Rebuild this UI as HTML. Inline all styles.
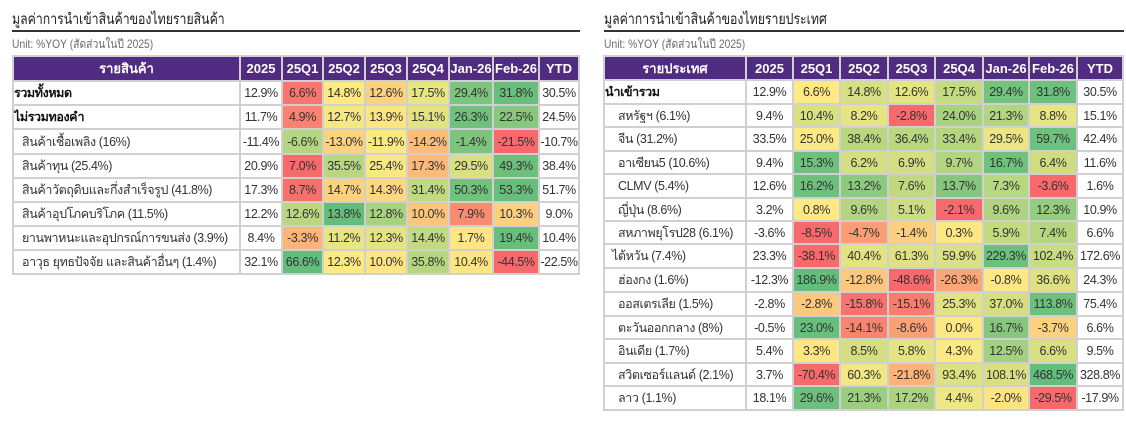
<!DOCTYPE html>
<html><head><meta charset="utf-8">
<style>
html,body{margin:0;padding:0;background:#fff;}
body{width:1126px;height:423px;position:relative;overflow:hidden;font-family:"Liberation Sans","Noto Sans CJK SC",sans-serif;color:#333;}
.title{position:absolute;top:7px;font-size:15px;color:#222;white-space:nowrap;transform:scaleX(0.82);transform-origin:0 50%;}
.rule{position:absolute;top:30px;height:2px;background:#333;}
.unit{position:absolute;top:35px;font-size:12px;color:#6b6b6b;white-space:nowrap;transform:scaleX(0.86);transform-origin:0 50%;}
.grid{position:absolute;display:grid;background:#d0d0d0;padding:2px;gap:2px;}
.grid>div{background:#fff;display:flex;align-items:center;justify-content:center;font-size:12.5px;letter-spacing:-0.4px;white-space:nowrap;overflow:hidden;}
.grid>div.h{background:#512b81;color:#fff;font-weight:bold;font-size:13px;letter-spacing:0;}
.grid>div.l{justify-content:flex-start;padding-left:8px;}
.grid>div.b{justify-content:flex-start;padding-left:0;font-weight:bold;color:#111;}
.grid>div.t{justify-content:flex-start;padding-left:7px;}
#g1{left:12px;top:55px;grid-template-columns:225px 40px 39px 40px 40px 40px 42px 44px 38px;grid-template-rows:23px 22px 22px 23px 22px 22px 22px 22px 22px;}
#g2{left:603px;top:55px;grid-template-columns:140px 45px 45px 46px 45px 46px 44px 46px 44px;grid-template-rows:22px 22px 21px 22px 21px 22px 21px 21px 22px 22px 22px 21px 22px 21px 22px;}
#g2>div.l{padding-left:13px;}
</style></head><body>

<div class="title" style="left:12px;">มูลค่าการนำเข้าสินค้าของไทยรายสินค้า</div>
<div class="rule" style="left:12px;width:568px;"></div>
<div class="unit" style="left:12px;">Unit: %YOY (สัดส่วนในปี 2025)</div>

<div class="title" style="left:604px;">มูลค่าการนำเข้าสินค้าของไทยรายประเทศ</div>
<div class="rule" style="left:604px;width:520px;"></div>
<div class="unit" style="left:604px;">Unit: %YOY (สัดส่วนในปี 2025)</div>

<div class="grid" id="g1">
<div class="h">รายสินค้า</div><div class="h">2025</div><div class="h">25Q1</div><div class="h">25Q2</div><div class="h">25Q3</div><div class="h">25Q4</div><div class="h">Jan-26</div><div class="h">Feb-26</div><div class="h">YTD</div>

<div class="b">รวมทั้งหมด</div><div>12.9%</div><div style="background:#f8766e">6.6%</div><div style="background:#fee983">14.8%</div><div style="background:#fdd17f">12.6%</div><div style="background:#e8e583">17.5%</div><div style="background:#7cc57c">29.4%</div><div style="background:#68bf7b">31.8%</div><div>30.5%</div>

<div class="b">ไม่รวมทองคำ</div><div>11.7%</div><div style="background:#f98370">4.9%</div><div style="background:#f5e884">12.7%</div><div style="background:#fee582">13.9%</div><div style="background:#e3e383">15.1%</div><div style="background:#6fc17c">26.3%</div><div style="background:#86c87d">22.5%</div><div>24.5%</div>

<div class="l">สินค้าเชื้อเพลิง (16%)</div><div>-11.4%</div><div style="background:#b5d680">-6.6%</div><div style="background:#fdd27f">-13.0%</div><div style="background:#fbe983">-11.9%</div><div style="background:#fcbd7b">-14.2%</div><div style="background:#7dc57c">-1.4%</div><div style="background:#f8696b">-21.5%</div><div>-10.7%</div>

<div class="l">สินค้าทุน (25.4%)</div><div>20.9%</div><div style="background:#f8696b">7.0%</div><div style="background:#b8d780">35.5%</div><div style="background:#f7e883">25.4%</div><div style="background:#fcb97a">17.3%</div><div style="background:#d8e082">29.5%</div><div style="background:#6cc07b">49.3%</div><div>38.4%</div>

<div class="l">สินค้าวัตถุดิบและกึ่งสำเร็จรูป (41.8%)</div><div>17.3%</div><div style="background:#f8706c">8.7%</div><div style="background:#fdd27f">14.7%</div><div style="background:#fed880">14.3%</div><div style="background:#c1da81">31.4%</div><div style="background:#70c27c">50.3%</div><div style="background:#67bf7b">53.3%</div><div>51.7%</div>

<div class="l">สินค้าอุปโภคบริโภค (11.5%)</div><div>12.2%</div><div style="background:#b8d780">12.6%</div><div style="background:#63be7b">13.8%</div><div style="background:#a9d27f">12.8%</div><div style="background:#fdc47c">10.0%</div><div style="background:#f98b71">7.9%</div><div style="background:#fdd07f">10.3%</div><div>9.0%</div>

<div class="l">ยานพาหนะและอุปกรณ์การขนส่ง (3.9%)</div><div>8.4%</div><div style="background:#fcb479">-3.3%</div><div style="background:#e8e583">11.2%</div><div style="background:#e4e483">12.3%</div><div style="background:#c2da81">14.4%</div><div style="background:#ffe683">1.7%</div><div style="background:#68bf7b">19.4%</div><div>10.4%</div>

<div class="l">อาวุธ ยุทธปัจจัย และสินค้าอื่นๆ (1.4%)</div><div>32.1%</div><div style="background:#63be7b">66.6%</div><div style="background:#fee983">12.3%</div><div style="background:#ffe683">10.0%</div><div style="background:#b6d680">35.8%</div><div style="background:#fee583">10.4%</div><div style="background:#f8696b">-44.5%</div><div>-22.5%</div>
</div>

<div class="grid" id="g2">
<div class="h">รายประเทศ</div><div class="h">2025</div><div class="h">25Q1</div><div class="h">25Q2</div><div class="h">25Q3</div><div class="h">25Q4</div><div class="h">Jan-26</div><div class="h">Feb-26</div><div class="h">YTD</div>

<div class="b">นำเข้ารวม</div><div>12.9%</div><div style="background:#ffe984">6.6%</div><div style="background:#d6e082">14.8%</div><div style="background:#e5e483">12.6%</div><div style="background:#c5db81">17.5%</div><div style="background:#74c37c">29.4%</div><div style="background:#6dc17c">31.8%</div><div>30.5%</div>

<div class="l">สหรัฐฯ (6.1%)</div><div>9.4%</div><div style="background:#d9e082">10.4%</div><div style="background:#e6e483">8.2%</div><div style="background:#f8696b">-2.8%</div><div style="background:#a8d27f">24.0%</div><div style="background:#b1d580">21.3%</div><div style="background:#e7e483">8.8%</div><div>15.1%</div>

<div class="l">จีน (31.2%)</div><div>33.5%</div><div style="background:#fbe983">25.0%</div><div style="background:#bad780">38.4%</div><div style="background:#b8d780">36.4%</div><div style="background:#b5d680">33.4%</div><div style="background:#ebe583">29.5%</div><div style="background:#6dc17c">59.7%</div><div>42.4%</div>

<div class="l">อาเซียน5 (10.6%)</div><div>9.4%</div><div style="background:#6ec17c">15.3%</div><div style="background:#d3df82">6.2%</div><div style="background:#d5df82">6.9%</div><div style="background:#b2d580">9.7%</div><div style="background:#6fc17c">16.7%</div><div style="background:#cfdd82">6.4%</div><div>11.6%</div>

<div class="l">CLMV (5.4%)</div><div>12.6%</div><div style="background:#6cc07b">16.2%</div><div style="background:#8ccb7e">13.2%</div><div style="background:#c0d981">7.6%</div><div style="background:#85c87d">13.7%</div><div style="background:#b7d780">7.3%</div><div style="background:#f8696b">-3.6%</div><div>1.6%</div>

<div class="l">ญี่ปุ่น (8.6%)</div><div>3.2%</div><div style="background:#fee983">0.8%</div><div style="background:#b3d580">9.6%</div><div style="background:#cedd82">5.1%</div><div style="background:#f8696b">-2.1%</div><div style="background:#aed480">9.6%</div><div style="background:#93cd7e">12.3%</div><div>10.9%</div>

<div class="l">สหภาพยุโรป28 (6.1%)</div><div>-3.6%</div><div style="background:#f8696b">-8.5%</div><div style="background:#fb9d75">-4.7%</div><div style="background:#fdd07f">-1.4%</div><div style="background:#ffe884">0.3%</div><div style="background:#c4da81">5.9%</div><div style="background:#b6d680">7.4%</div><div>6.6%</div>

<div class="t">ไต้หวัน (7.4%)</div><div>23.3%</div><div style="background:#f8696b">-38.1%</div><div style="background:#e3e383">40.4%</div><div style="background:#dfe283">61.3%</div><div style="background:#dbe182">59.9%</div><div style="background:#6bc07b">229.3%</div><div style="background:#c8dc81">102.4%</div><div>172.6%</div>

<div class="l">ฮ่องกง (1.6%)</div><div>-12.3%</div><div style="background:#63be7b">186.9%</div><div style="background:#fdc87d">-12.8%</div><div style="background:#f8696b">-48.6%</div><div style="background:#fba676">-26.3%</div><div style="background:#ffe884">-0.8%</div><div style="background:#dde182">36.6%</div><div>24.3%</div>

<div class="l">ออสเตรเลีย (1.5%)</div><div>-2.8%</div><div style="background:#fdc87d">-2.8%</div><div style="background:#f8736d">-15.8%</div><div style="background:#f97c6f">-15.1%</div><div style="background:#e1e383">25.3%</div><div style="background:#d5df82">37.0%</div><div style="background:#6ec17c">113.8%</div><div>75.4%</div>

<div class="l">ตะวันออกกลาง (8%)</div><div>-0.5%</div><div style="background:#68bf7b">23.0%</div><div style="background:#f98470">-14.1%</div><div style="background:#fb9f75">-8.6%</div><div style="background:#ffe784">0.0%</div><div style="background:#85c87d">16.7%</div><div style="background:#fdd17f">-3.7%</div><div>6.6%</div>

<div class="l">อินเดีย (1.7%)</div><div>5.4%</div><div style="background:#fee783">3.3%</div><div style="background:#d5df82">8.5%</div><div style="background:#e4e483">5.8%</div><div style="background:#fbe983">4.3%</div><div style="background:#a3d17f">12.5%</div><div style="background:#d9e082">6.6%</div><div>9.5%</div>

<div class="l">สวิตเซอร์แลนด์ (2.1%)</div><div>3.7%</div><div style="background:#f8696b">-70.4%</div><div style="background:#f1e784">60.3%</div><div style="background:#fcb279">-21.8%</div><div style="background:#dde182">93.4%</div><div style="background:#dae082">108.1%</div><div style="background:#63be7b">468.5%</div><div>328.8%</div>

<div class="l">ลาว (1.1%)</div><div>18.1%</div><div style="background:#6cc07b">29.6%</div><div style="background:#9acf7f">21.3%</div><div style="background:#acd380">17.2%</div><div style="background:#ece683">4.4%</div><div style="background:#fee382">-2.0%</div><div style="background:#f8696b">-29.5%</div><div>-17.9%</div>
</div>

</body></html>
